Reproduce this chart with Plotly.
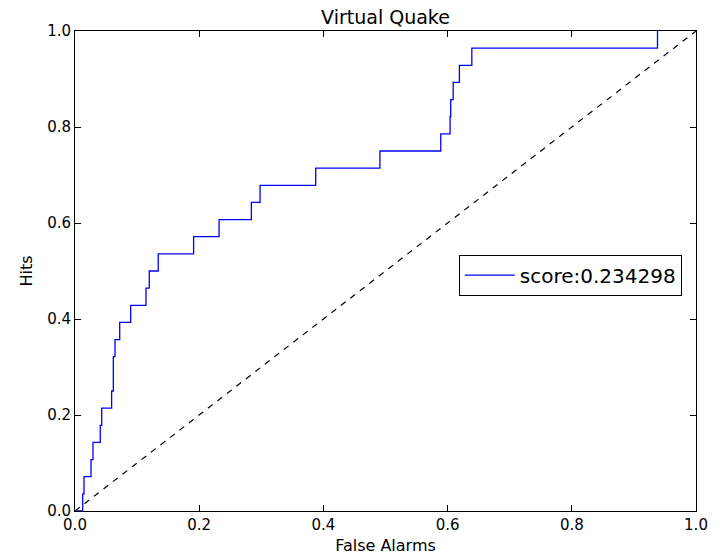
import plotly.graph_objects as go

# ROC-style step curve: false-alarm rate at each threshold and cumulative hits
false_alarms = [0.0, 0.0124, 0.0145, 0.0258, 0.029, 0.0407, 0.043, 0.059, 0.0617,
                0.0644, 0.072, 0.0897, 0.1143, 0.1196, 0.134, 0.191, 0.232,
                0.284, 0.298, 0.3876, 0.491, 0.589, 0.604, 0.605, 0.609,
                0.619, 0.639, 0.938]
hit_counts = [0, 1, 2, 3, 4, 5, 6, 7, 9, 10, 11, 12, 13, 14, 15, 16, 17,
              18, 19, 20, 21, 22, 23, 24, 25, 26, 27, 28]
n_events = 28
hits = [c / n_events for c in hit_counts]

score_label = "score:0.234298"
x_ticks = [0.0, 0.2, 0.4, 0.6, 0.8, 1.0]
y_ticks = [0.0, 0.2, 0.4, 0.6, 0.8, 1.0]

font_family = "DejaVu Sans, Liberation Sans, sans-serif"

fig = go.Figure()

# random-forecast reference diagonal
fig.add_trace(go.Scatter(
    x=[0, 1], y=[0, 1], mode="lines",
    line=dict(color="black", width=1.2, dash="6px,6px"),
    showlegend=False, hoverinfo="skip",
))

fig.add_trace(go.Scatter(
    x=false_alarms, y=hits, mode="lines",
    line=dict(color="#0000ff", width=1.3, shape="hv"),
    name=score_label,
))

axis_common = dict(
    range=[0, 1], showgrid=False, zeroline=False, automargin=False,
    showline=True, linecolor="black", linewidth=1, mirror="allticks",
    ticks="inside", ticklen=6, tickcolor="black", tickwidth=1,
    tickformat=".1f", tickfont=dict(size=15, color="black", family=font_family),
)

fig.update_layout(
    width=722, height=555,
    margin=dict(l=75, r=26, t=31, b=44),
    paper_bgcolor="white", plot_bgcolor="white",
    font=dict(family=font_family, color="black"),
    title=dict(text="Virtual Quake", x=(75 + 696) / 2 / 722, xanchor="center",
               y=1 - 17 / 555, yanchor="middle",
               font=dict(size=19, color="black", family=font_family)),
    xaxis=dict(axis_common, tickvals=x_ticks,
               title=dict(text="False Alarms", standoff=9,
                          font=dict(size=16, family=font_family))),
    yaxis=dict(axis_common, tickvals=y_ticks,
               title=dict(text="Hits", standoff=10,
                          font=dict(size=16, family=font_family))),
    legend=dict(x=0.618, y=0.534, xanchor="left", yanchor="top",
                bordercolor="black", borderwidth=1, bgcolor="white",
                itemwidth=50,
                font=dict(size=20, family=font_family, color="black")),
)

fig.write_html("out.html")
